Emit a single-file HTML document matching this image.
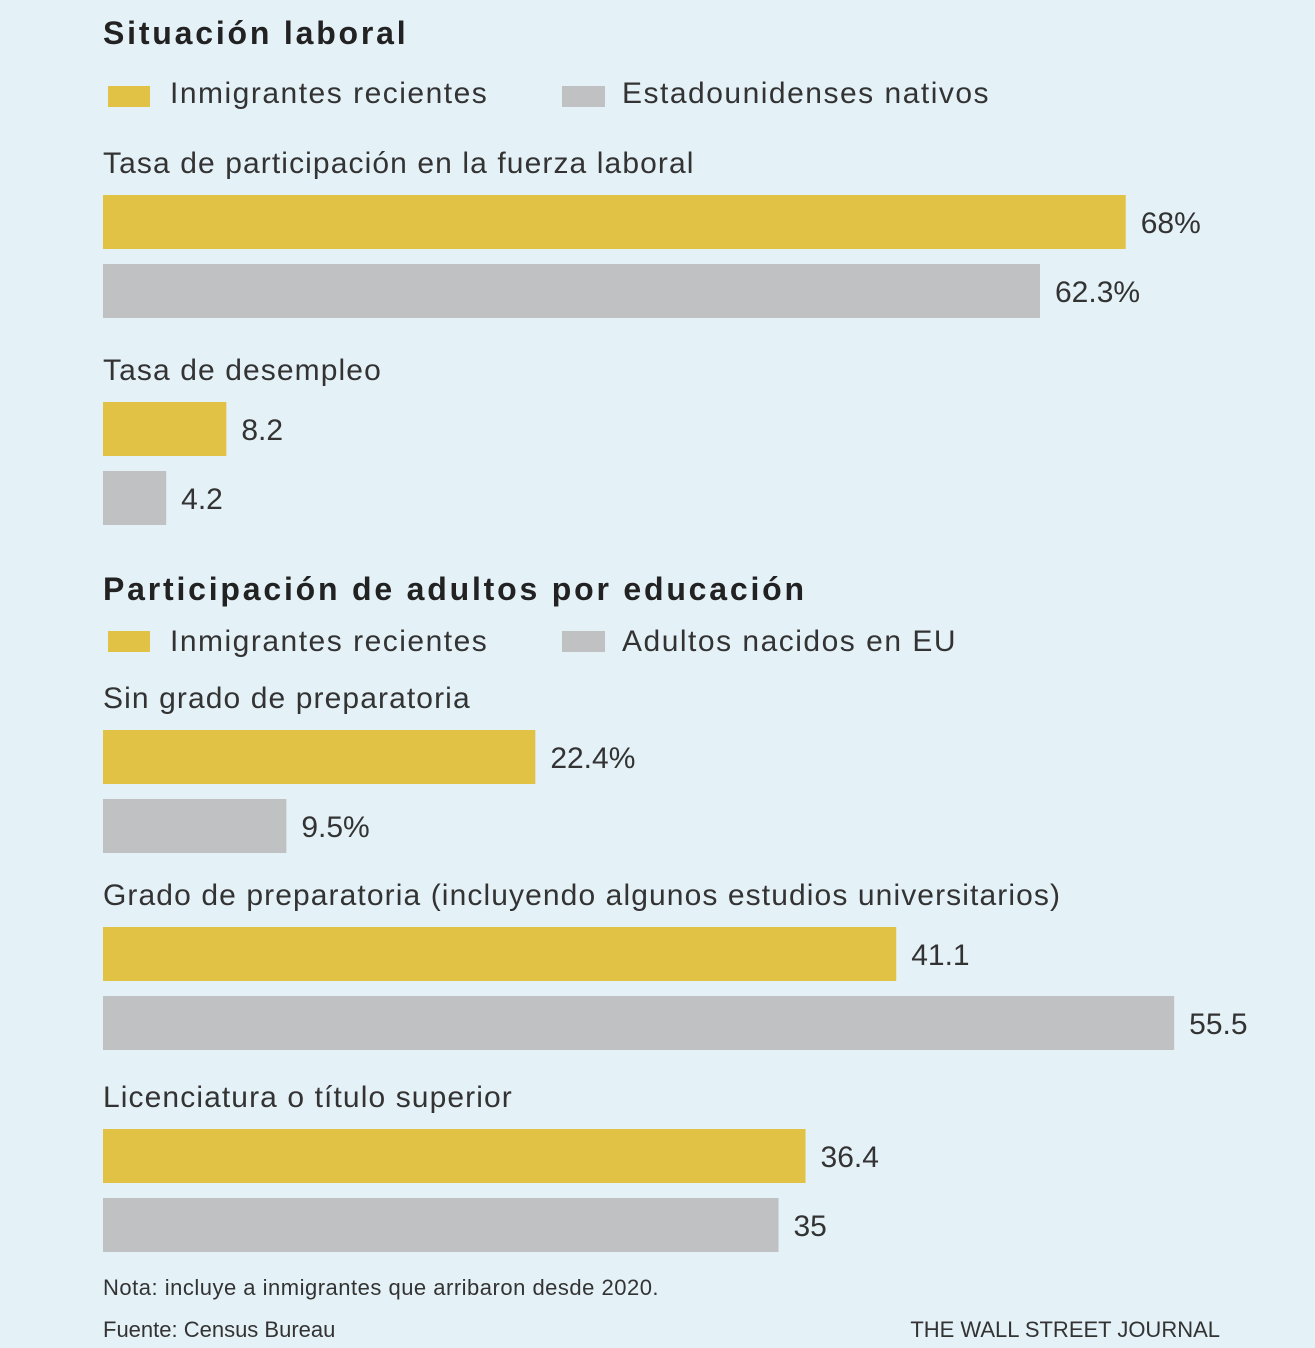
<!DOCTYPE html>
<html><head><meta charset="utf-8"><style>
body{margin:0;background:#e4f1f7;}
svg{display:block;font-family:"Liberation Sans",sans-serif;}
.t{letter-spacing:1.5px;}
.h{letter-spacing:2.8px;}
</style></head><body>
<svg id="c" width="1315" height="1348">
<rect width="1315" height="1348" fill="#e4f1f7"/>
<text class="h" x="103" y="44" font-size="32" font-weight="bold" fill="#222">Situación laboral</text>
<text class="h" x="103" y="600" font-size="32" font-weight="bold" fill="#222">Participación de adultos por educación</text>
<g>
<rect x="108" y="86" width="42" height="21" fill="#e2c245"/>
<text class="t" x="170" y="103" font-size="30" fill="#333">Inmigrantes recientes</text>
<rect x="562" y="86" width="43" height="21" fill="#bfc1c3"/>
<text class="t" x="622" y="103" font-size="30" fill="#333">Estadounidenses nativos</text>
</g>
<g>
<rect x="108" y="631" width="42" height="21" fill="#e2c245"/>
<text class="t" x="170" y="651" font-size="30" fill="#333">Inmigrantes recientes</text>
<rect x="562" y="631" width="43" height="21" fill="#bfc1c3"/>
<text class="t" x="622" y="651" font-size="30" fill="#333">Adultos nacidos en EU</text>
</g>
<g id="bars"></g>
<text x="103" y="1295" font-size="22" fill="#333" letter-spacing="0.5">Nota: incluye a inmigrantes que arribaron desde 2020.</text>
<text x="103" y="1337" font-size="22" fill="#333">Fuente: Census Bureau</text>
<text x="1220" y="1337" font-size="22" fill="#333" text-anchor="end">THE WALL STREET JOURNAL</text>
</svg>
<script>
const laborCategories = ["Tasa de participación en la fuerza laboral", "Tasa de desempleo"];
const laborImmigrants = [68, 8.2];
const laborNatives = [62.3, 4.2];
const laborImmLabels = ["68%", "8.2"];
const laborNatLabels = ["62.3%", "4.2"];
const eduCategories = ["Sin grado de preparatoria", "Grado de preparatoria (incluyendo algunos estudios universitarios)", "Licenciatura o título superior"];
const eduImmigrants = [22.4, 41.1, 36.4];
const eduUSBorn = [9.5, 55.5, 35];
const eduImmLabels = ["22.4%", "41.1", "36.4"];
const eduUSLabels = ["9.5%", "55.5", "35"];

const NS = "http://www.w3.org/2000/svg";
const g = document.getElementById("bars");
const X0 = 103;
const xLabor = v => v * 15.04;
const xEdu = v => v * 19.3;
function mk(tag, attrs){const e=document.createElementNS(NS,tag);for(const k in attrs)e.setAttribute(k,attrs[k]);g.appendChild(e);return e;}
function group(cats, a, b, al, bl, sx, tops, prefix){
  cats.forEach((c,i)=>{
    const t = tops[i];
    const lab = mk("text",{x:X0,y:t-22,"font-size":30,fill:"#333","letter-spacing":1.1});
    lab.textContent = c;
    
    
    [[a,al,"#e2c245",0],[b,bl,"#bfc1c3",69]].forEach(([arr,lbls,col,off],j)=>{
      const w = sx(arr[i]);
      const r = mk("rect",{x:X0,y:t+off,width:w,height:54,fill:col});
      
      
      const tx = mk("text",{x:X0+w+15,y:t+off+38,"font-size":30,fill:"#333"});
      tx.textContent = lbls[i];
      
      
    });
  });
}
group(laborCategories, laborImmigrants, laborNatives, laborImmLabels, laborNatLabels, xLabor, [195,402], "labor");
group(eduCategories, eduImmigrants, eduUSBorn, eduImmLabels, eduUSLabels, xEdu, [730,927,1129], "edu");
</script>
</body></html>
